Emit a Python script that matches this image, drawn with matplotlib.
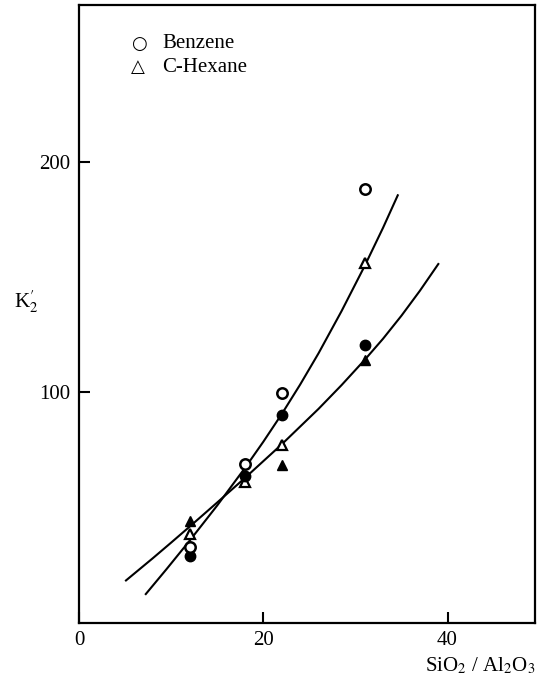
import numpy as np
import matplotlib
matplotlib.use("Agg")
import matplotlib.pyplot as plt

plt.rcParams['font.family'] = ['Liberation Serif', 'DejaVu Serif']
plt.rcParams['mathtext.fontset'] = 'stix'

# SiO2/Al2O3 ratio of the samples
ratio = [12, 18, 22, 31]
benzene_open = [33, 69, 99.5, 188]
benzene_filled = [29, 63.5, 90, 120.3]
hexane_open = [38.6, 61, 77.3, 156.2]
hexane_filled = [44.1, np.nan, 68.6, 114.1]

# hand-drawn curves, points
curve_a_x = [7.25, 9.5, 12, 15, 18, 20, 22, 24, 26, 28.5, 31, 33, 34.6]
curve_a_y = [12.5, 23.3, 35.6, 50.9, 67.1, 78.5, 90.5, 103.3, 116.9, 135.2, 154.7, 171.3, 185.4]
curve_b_x = [5.1, 8, 10, 12, 15, 18, 22, 26, 28.5, 31, 33, 35, 37, 39]
curve_b_y = [18.4, 28.0, 34.8, 41.7, 52.2, 62.8, 77.4, 92.8, 103.1, 114.0, 123.2, 133.2, 144.0, 155.6]

xticks = [0, 20, 40]
yticks = [100, 200]

fig = plt.figure(figsize=(5.41, 6.83), dpi=100)
ax = fig.add_axes([0.146, 0.088, 0.843, 0.905])

ax.plot(curve_a_x, curve_a_y, color="black", lw=1.5, zorder=2)
ax.plot(curve_b_x, curve_b_y, color="black", lw=1.5, zorder=2)

ms = 7.5
ax.plot(ratio, hexane_open, ls="none", marker="^", ms=ms, mfc="white", mec="black", mew=1.6, zorder=3)
ax.plot(ratio, hexane_filled, ls="none", marker="^", ms=ms, mfc="black", mec="black", zorder=3)
ax.plot(ratio, benzene_filled, ls="none", marker="o", ms=ms, mfc="black", mec="black", zorder=4)
ax.plot(ratio, benzene_open, ls="none", marker="o", ms=ms, mfc="white", mec="black", mew=1.8, zorder=4)

ax.set_xlim(0, 49.5)
ax.set_ylim(0, 268)
ax.set_xticks(xticks)
ax.set_yticks(yticks)
ax.tick_params(direction="in", length=8, width=1.5, labelsize=15, pad=6)
for s in ax.spines.values():
    s.set_linewidth(1.6)

# legend written as text, like the original
ax.text(5.6, 251, "\u25cb", fontsize=13, va="center", ha="left", family=["DejaVu Sans"])
ax.text(9.0, 251, "Benzene", fontsize=15, va="center", ha="left")
ax.text(5.6, 241, "\u25b3", fontsize=13, va="center", ha="left", family=["DejaVu Sans"])
ax.text(9.0, 241, "C-Hexane", fontsize=15, va="center", ha="left")

ax.text(-0.115, 0.52, "K$_2'$", transform=ax.transAxes, fontsize=15, ha="center", va="center")
ax.text(1.0, -0.07, "SiO$_2$ / Al$_2$O$_3$", transform=ax.transAxes, fontsize=15, ha="right", va="center")

fig.savefig("out.png", dpi=100)
